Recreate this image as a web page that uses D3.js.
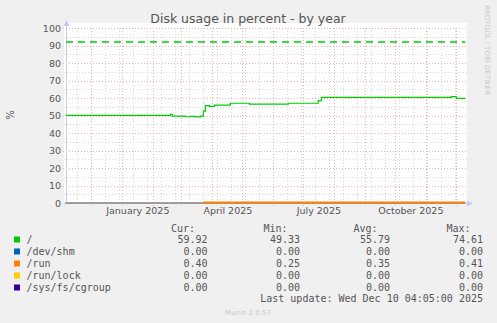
<!DOCTYPE html>
<html>
<head>
<meta charset="utf-8">
<script src="https://cdn.jsdelivr.net/npm/d3@7"></script>
<style>
  html, body { margin: 0; padding: 0; background: #f0f0f0; }
  svg { display: block; }
</style>
</head>
<body>
<div id="chart-container"></div>
<script>
// values
const rootDates = ["2024-11-05", "2025-02-18", "2025-02-20", "2025-03-05", "2025-03-10", "2025-03-15",
  "2025-03-20", "2025-03-23", "2025-03-25", "2025-03-29", "2025-04-03", "2025-04-19", "2025-05-08",
  "2025-06-16", "2025-07-16", "2025-07-19", "2025-11-26", "2025-12-01", "2025-12-10"];
const rootValues = [50.1, 50.6, 49.7, 49.3, 49.5, 49.2, 49.6, 52.5, 55.7, 55.2, 55.9, 57.0, 56.5,
  57.0, 58.5, 60.4, 60.8, 59.8, 59.8];
const runDates = ["2025-03-23", "2025-12-10"];
const runValues = [0.35, 0.4];
const zeroDates = ["2024-11-05", "2025-12-10"];
const zeroValues = [0, 0];
const warningLevel = 92;

const seriesNames = ["/", "/dev/shm", "/run", "/run/lock", "/sys/fs/cgroup"];
const seriesColors = ["#00cc00", "#0066b3", "#ff8000", "#ffcc00", "#330099"];
const curValues = ["59.92", "0.00", "0.40", "0.00", "0.00"];
const minValues = ["49.33", "0.00", "0.25", "0.00", "0.00"];
const avgValues = ["55.79", "0.00", "0.35", "0.00", "0.00"];
const maxValues = ["74.61", "0.00", "0.41", "0.00", "0.00"];

const yTicks = [0, 10, 20, 30, 40, 50, 60, 70, 80, 90, 100];
const xTickDates = ["2025-01-16", "2025-04-16", "2025-07-16", "2025-10-16"];
const xTickLabels = ["January 2025", "April 2025", "July 2025", "October 2025"];

const W = 497, H = 323;
const start = new Date("2024-11-05T04:05:00Z");
const end = new Date("2025-12-10T04:05:00Z");

const x = d3.scaleUtc().domain([start, end]).range([65.5, 465.5]);
const y = d3.scaleLinear().domain([0, 100]).range([203, 28]);

const svg = d3.select("#chart-container").append("svg")
  .attr("width", W).attr("height", H)
  .style("font-family", "'DejaVu Sans', sans-serif");

svg.append("rect").attr("width", W).attr("height", H).attr("fill", "#f0f0f0");
svg.append("rect").attr("x", 64).attr("y", 23).attr("width", 403).attr("height", 180).attr("fill", "#ffffff");

// grid
const grid = svg.append("g");
const minorY = d3.range(5, 100, 10);
grid.selectAll(".hminor").data(minorY).join("line")
  .attr("x1", 64).attr("x2", 468)
  .attr("y1", (d) => Math.round(y(d)) + 0.5).attr("y2", (d) => Math.round(y(d)) + 0.5)
  .attr("stroke", "#d8d8d8").attr("stroke-dasharray", "1,2");

const minorX = d3.utcDay.range(new Date("2024-11-17T00:00:00Z"), end, 14);
grid.selectAll(".vminor").data(minorX).join("line")
  .attr("x1", (d) => Math.round(x(d)) + 0.5).attr("x2", (d) => Math.round(x(d)) + 0.5)
  .attr("y1", 28).attr("y2", 203)
  .attr("stroke", "#d8d8d8").attr("stroke-dasharray", "1,2");

grid.selectAll(".hmajor").data(yTicks.slice(1)).join("line")
  .attr("x1", 63).attr("x2", 468)
  .attr("y1", (d) => Math.round(y(d)) + 0.5).attr("y2", (d) => Math.round(y(d)) + 0.5)
  .attr("stroke", "#eeb0b0").attr("stroke-dasharray", "1,2");

const months = d3.utcMonth.range(d3.utcMonth.ceil(start), end);
grid.selectAll(".vmajor").data(months).join("line")
  .attr("x1", (d) => Math.round(x(d)) + 0.5).attr("x2", (d) => Math.round(x(d)) + 0.5)
  .attr("y1", 28).attr("y2", 206)
  .attr("stroke", "#eeb0b0").attr("stroke-dasharray", "1,2");

// axes lines + arrows
const axisColor = "#c8c8f4";
svg.append("line").attr("x1", 66.5).attr("x2", 66.5).attr("y1", 203).attr("y2", 24).attr("stroke", axisColor);
svg.append("path").attr("d", "M63.5,26 L66.5,20 L69.5,26 Z").attr("fill", axisColor);
svg.append("line").attr("x1", 64).attr("x2", 468).attr("y1", 203.5).attr("y2", 203.5).attr("stroke", axisColor);
svg.append("path").attr("d", "M467,200.5 L473,203.5 L467,206.5 Z").attr("fill", axisColor);

// y axis labels
const yAxis = svg.append("g").attr("transform", "translate(61,0)")
  .call(d3.axisLeft(y).tickValues(yTicks).tickSize(0).tickPadding(0));
yAxis.select(".domain").remove();
yAxis.selectAll("text").attr("fill", "#555").style("font-size", "9.5px")
  .style("font-family", "'DejaVu Sans', sans-serif");

// x axis labels
const xAxis = svg.append("g").attr("transform", "translate(0,206)")
  .call(d3.axisBottom(x).tickValues(xTickDates.map((d) => new Date(d + "T00:00:00Z")))
    .tickSize(0).tickPadding(1).tickFormat((d, i) => xTickLabels[i]));
xAxis.select(".domain").remove();
xAxis.selectAll("text").attr("fill", "#555").style("font-size", "9.5px")
  .style("font-family", "'DejaVu Sans', sans-serif");

// series
svg.append("clipPath").attr("id", "plot").append("rect")
  .attr("x", 65.5).attr("y", 20).attr("width", 400).attr("height", 186);
const plot = svg.append("g").attr("clip-path", "url(#plot)");

const line = d3.line()
  .x((d) => x(d[0]))
  .y((d) => y(d[1]))
  .curve(d3.curveStepAfter);

const toPts = (dates, vals) => dates.map((d, i) => [new Date(d + "T00:00:00Z"), vals[i]]);

plot.append("line")
  .attr("x1", 66).attr("x2", 466)
  .attr("y1", y(warningLevel)).attr("y2", y(warningLevel))
  .attr("stroke", "#00cc00").attr("stroke-width", 1.5).attr("stroke-dasharray", "7,5");

plot.append("path").datum(toPts(zeroDates, zeroValues)).attr("d", line)
  .attr("fill", "none").attr("stroke", seriesColors[1]).attr("stroke-width", 1);
plot.append("path").datum(toPts(zeroDates, zeroValues)).attr("d", line)
  .attr("fill", "none").attr("stroke", seriesColors[3]).attr("stroke-width", 1);
plot.append("path").datum(toPts(zeroDates, zeroValues)).attr("d", line)
  .attr("fill", "none").attr("stroke", "#8a80c8").attr("stroke-width", 1);
plot.append("path").datum(toPts(runDates, runValues)).attr("d", line)
  .attr("fill", "none").attr("stroke", seriesColors[2]).attr("stroke-width", 2);
plot.append("path").datum(toPts(rootDates, rootValues)).attr("d", line)
  .attr("fill", "none").attr("stroke", seriesColors[0]).attr("stroke-width", 1.2);

// title and side texts
svg.append("text").attr("x", 248).attr("y", 23).attr("text-anchor", "middle")
  .attr("fill", "#555").style("font-size", "12.5px").text("Disk usage in percent - by year");
svg.append("text").attr("transform", "translate(14,115) rotate(-90)").attr("text-anchor", "middle")
  .attr("fill", "#555").style("font-size", "10px").text("%");
svg.append("text").attr("transform", "translate(485,5) rotate(90)")
  .attr("fill", "#c8c8c8").style("font-size", "7px").text("RRDTOOL / TOBI OETIKER");
svg.append("text").attr("x", 248).attr("y", 315).attr("text-anchor", "middle")
  .attr("fill", "#c8c8c8").style("font-size", "7px").text("Munin 2.0.57");

// legend
const mono = "'DejaVu Sans Mono', monospace";
const legend = svg.append("g").style("font-family", mono).style("font-size", "10px").attr("fill", "#555");
const cols = [
  { head: "Cur:", vals: curValues, right: 207.5 },
  { head: "Min:", vals: minValues, right: 300 },
  { head: "Avg:", vals: avgValues, right: 390 },
  { head: "Max:", vals: maxValues, right: 483 }
];
cols.forEach((c) => {
  legend.append("text").attr("x", c.right - 12.5).attr("y", 231.5).attr("text-anchor", "end").text(c.head);
  legend.selectAll(null).data(c.vals).join("text")
    .attr("x", c.right).attr("y", (d, i) => 243 + i * 12).attr("text-anchor", "end").text((d) => d);
});
legend.selectAll(".sw").data(seriesNames).join("rect")
  .attr("x", 14).attr("y", (d, i) => 236.5 + i * 12).attr("width", 6).attr("height", 6)
  .attr("fill", (d, i) => seriesColors[i]);
legend.selectAll(".nm").data(seriesNames).join("text")
  .attr("x", 26.5).attr("y", (d, i) => 243 + i * 12).text((d) => d);
legend.append("text").attr("x", 483).attr("y", 302).attr("text-anchor", "end")
  .text("Last update: Wed Dec 10 04:05:00 2025");
</script>
</body>
</html>
